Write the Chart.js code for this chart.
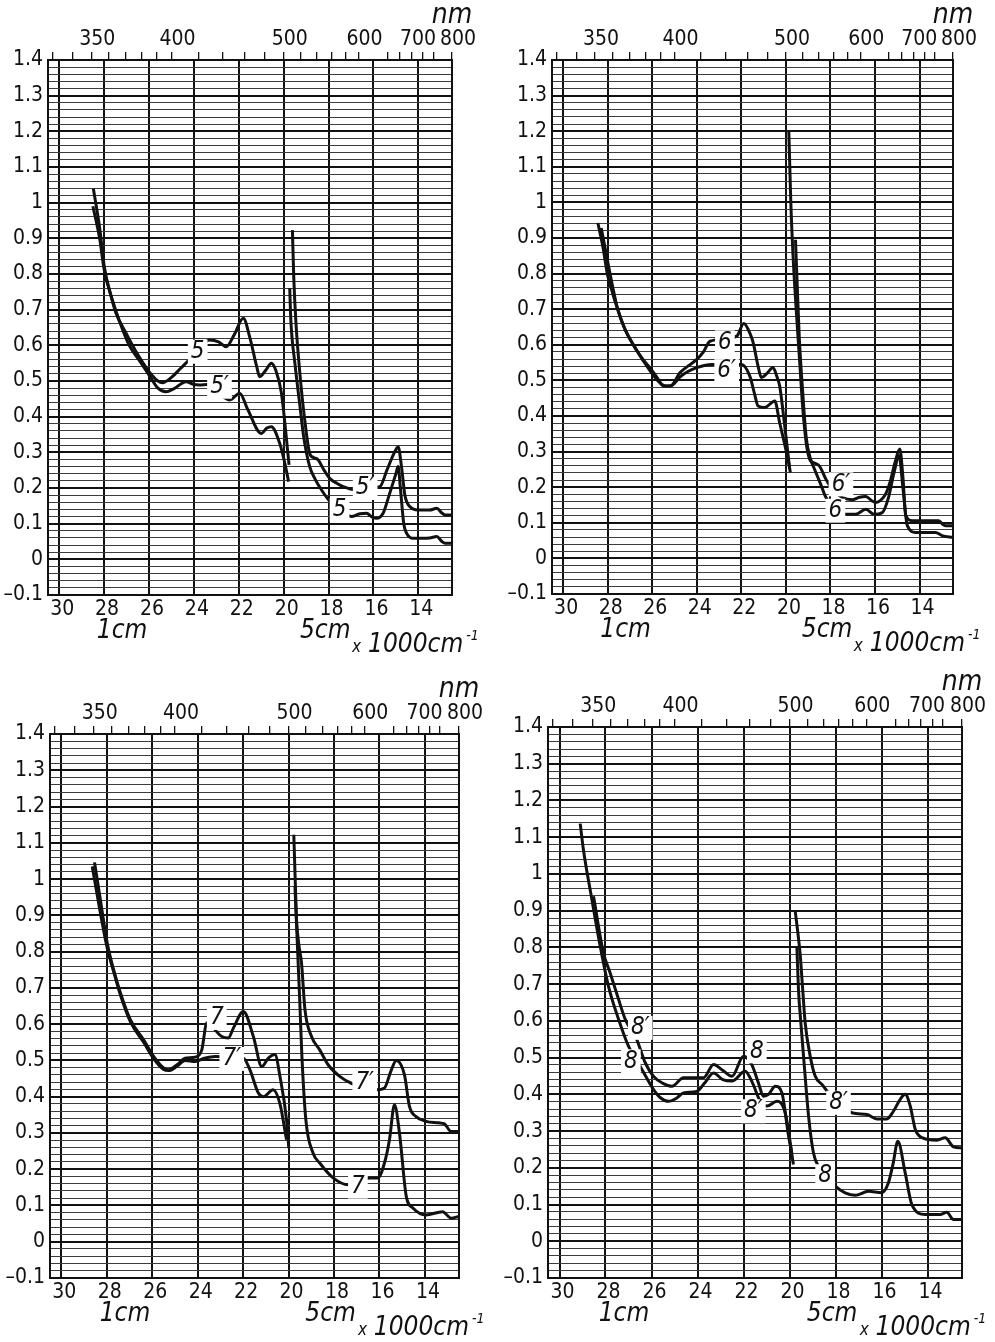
<!DOCTYPE html>
<html>
<head>
<meta charset="utf-8">
<script src="https://cdn.jsdelivr.net/npm/chart.js@4.4.1/dist/chart.umd.min.js"></script>
<style>
  body { margin: 0; background: #fff; width: 995px; height: 1342px; position: relative; overflow: hidden; }
  canvas { position: absolute; }
</style>
</head>
<body>
<canvas id="c1" width="497" height="671" style="left:0;top:0"></canvas>
<canvas id="c2" width="498" height="671" style="left:497px;top:0"></canvas>
<canvas id="c3" width="497" height="671" style="left:0;top:671px"></canvas>
<canvas id="c4" width="498" height="671" style="left:497px;top:671px"></canvas>
<script>
// axis ticks (x 1000 cm-1 below, nm on top)
const wavenumberTicks = [30, 28, 26, 24, 22, 20, 18, 16, 14];
const nmTicks = [330, 340, 350, 360, 370, 380, 390, 400, 420, 440, 460, 480, 500, 520, 540, 560, 580, 600, 650, 675, 700, 725, 750, 800];
const nmLabels = [350, 400, 500, 600, 700, 800];
const yTickLabels = ["–0.1", "0", "0.1", "0.2", "0.3", "0.4", "0.5", "0.6", "0.7", "0.8", "0.9", "1", "1.1", "1.2", "1.3", "1.4"];

// panel 1 : curves 5 / 5'  [wavenumber, absorbance]
const p1Curve5Uv = [[28.48,1.04],[28.2,0.93],[27.99,0.82],[27.7,0.74],[27.47,0.69],[27.02,0.634],[26.6,0.585],[25.98,0.525],[25.6,0.5],[25.4,0.495],[25.0,0.51],[24.6,0.535],[24.2,0.56],[23.8,0.59],[23.3,0.615],[22.9,0.61],[22.56,0.596],[22.2,0.63],[21.8,0.676],[21.5,0.62],[21.2,0.54],[21.07,0.512],[20.8,0.53],[20.55,0.55],[20.35,0.53],[20.1,0.466],[19.76,0.265]];
const p1Curve5pUv = [[28.5,0.99],[28.2,0.9],[27.99,0.81],[27.62,0.725],[27.3,0.665],[26.88,0.6],[26.4,0.555],[25.98,0.515],[25.6,0.48],[25.24,0.47],[24.9,0.478],[24.35,0.498],[24.0,0.49],[23.75,0.489],[23.4,0.49],[22.8,0.46],[22.4,0.447],[21.96,0.466],[21.6,0.42],[21.0,0.353],[20.75,0.368],[20.55,0.372],[20.18,0.326],[19.95,0.27],[19.78,0.218]];
const p1Curve5pVis = [[19.61,0.923],[19.55,0.79],[19.45,0.66],[19.29,0.53],[19.06,0.39],[18.84,0.297],[18.65,0.285],[18.47,0.279],[18.2,0.25],[17.95,0.227],[17.6,0.212],[17.35,0.204],[16.83,0.195],[16.2,0.2],[15.71,0.204],[15.4,0.25],[15.1,0.295],[14.9,0.316],[14.75,0.26],[14.6,0.18],[14.38,0.148],[14.0,0.138],[13.5,0.138],[13.18,0.143],[12.95,0.13],[12.81,0.124],[12.5,0.124]];
const p1Curve5Vis = [[19.73,0.76],[19.68,0.67],[19.5,0.55],[19.29,0.438],[19.1,0.34],[18.84,0.26],[18.6,0.225],[18.32,0.195],[17.87,0.157],[17.7,0.15],[16.98,0.12],[16.6,0.128],[16.31,0.129],[16.05,0.118],[15.86,0.115],[15.57,0.129],[15.3,0.18],[15.0,0.24],[14.9,0.26],[14.8,0.2],[14.65,0.1],[14.52,0.073],[14.23,0.059],[13.5,0.06],[13.18,0.064],[12.95,0.05],[12.81,0.045],[12.5,0.045]];

// panel 2 : curves 6 / 6'
const p2Curve6Uv = [[28.44,0.942],[28.2,0.87],[28.02,0.8],[27.8,0.75],[27.65,0.718],[27.28,0.652],[26.9,0.605],[26.53,0.568],[25.94,0.522],[25.7,0.5],[25.49,0.484],[25.19,0.484],[24.75,0.522],[24.4,0.54],[24.0,0.559],[23.7,0.58],[23.41,0.61],[22.21,0.624],[21.89,0.66],[21.6,0.63],[21.47,0.606],[21.25,0.54],[21.1,0.508],[20.85,0.52],[20.58,0.536],[20.4,0.51],[20.28,0.484],[20.05,0.37],[19.83,0.251]];
const p2Curve6pUv = [[28.29,0.928],[28.05,0.85],[27.8,0.77],[27.55,0.7],[27.2,0.64],[26.8,0.595],[26.4,0.555],[25.9,0.51],[25.6,0.49],[25.4,0.484],[25.1,0.487],[24.75,0.51],[24.4,0.525],[24.0,0.536],[23.33,0.545],[21.99,0.545],[21.62,0.512],[21.4,0.46],[21.25,0.428],[20.95,0.424],[20.5,0.442],[20.28,0.381],[19.91,0.279],[19.8,0.241]];
const p2Curve6pVis = [[19.87,1.2],[19.78,1.0],[19.68,0.85],[19.54,0.7],[19.38,0.55],[19.24,0.419],[19.09,0.325],[18.94,0.279],[18.8,0.27],[18.5,0.26],[18.2,0.222],[17.97,0.199],[17.46,0.171],[17.0,0.165],[16.7,0.172],[16.41,0.174],[16.15,0.162],[15.96,0.157],[15.75,0.163],[15.52,0.181],[15.3,0.22],[15.1,0.27],[14.89,0.307],[14.75,0.23],[14.62,0.12],[14.33,0.106],[13.6,0.106],[13.14,0.106],[12.95,0.095],[12.84,0.092],[12.5,0.092]];
const p2Curve6Vis = [[19.57,0.895],[19.5,0.78],[19.4,0.62],[19.25,0.47],[19.09,0.34],[18.9,0.28],[18.72,0.251],[18.45,0.21],[18.2,0.171],[17.3,0.124],[16.87,0.124],[16.41,0.138],[16.04,0.124],[15.67,0.129],[15.4,0.17],[15.15,0.24],[14.92,0.288],[14.75,0.2],[14.55,0.092],[14.18,0.073],[13.29,0.073],[12.99,0.064],[12.5,0.059]];

// panel 3 : curves 7 / 7'
const p3Curve7Uv = [[28.54,1.046],[28.3,0.95],[27.98,0.823],[27.7,0.75],[27.4,0.686],[26.96,0.612],[26.38,0.557],[25.94,0.511],[25.5,0.479],[25.28,0.474],[24.91,0.488],[24.55,0.506],[24.11,0.509],[23.82,0.529],[23.6,0.603],[22.94,0.566],[22.65,0.562],[22.43,0.589],[21.99,0.635],[21.55,0.566],[21.18,0.483],[20.89,0.506],[20.6,0.516],[20.38,0.456],[20.09,0.336],[19.99,0.258]];
const p3Curve7pUv = [[28.64,1.035],[28.35,0.93],[28.0,0.815],[27.7,0.745],[27.4,0.68],[26.96,0.606],[26.38,0.55],[25.94,0.505],[25.5,0.475],[25.28,0.472],[24.91,0.484],[24.55,0.5],[24.11,0.497],[23.7,0.506],[23.23,0.511],[21.99,0.506],[21.7,0.474],[21.33,0.41],[21.11,0.4],[20.68,0.419],[20.38,0.38],[20.09,0.281]];
const p3Curve7pVis = [[19.77,1.122],[19.7,0.98],[19.65,0.888],[19.55,0.82],[19.43,0.768],[19.28,0.64],[18.99,0.566],[18.63,0.529],[18.26,0.488],[17.75,0.456],[17.24,0.437],[16.14,0.419],[15.78,0.424],[15.5,0.47],[15.26,0.5],[14.9,0.46],[14.68,0.373],[14.39,0.345],[13.95,0.332],[13.4,0.328],[13.14,0.325],[12.85,0.304],[12.5,0.304]];
const p3Curve7Vis = [[19.72,0.98],[19.6,0.8],[19.5,0.65],[19.42,0.52],[19.24,0.336],[18.92,0.244],[18.63,0.217],[18.04,0.176],[17.38,0.157],[16.43,0.176],[16.07,0.176],[15.78,0.217],[15.56,0.281],[15.34,0.378],[15.12,0.3],[14.82,0.125],[14.53,0.093],[13.95,0.074],[13.22,0.083],[12.85,0.065],[12.5,0.07]];

// panel 4 : curves 8 / 8'
const p4Curve8Uv = [[29.1,1.137],[28.96,1.066],[28.59,0.93],[28.23,0.803],[27.87,0.694],[27.43,0.604],[27.0,0.531],[26.49,0.476],[25.91,0.413],[25.6,0.39],[25.26,0.381],[24.9,0.39],[24.61,0.404],[24.03,0.408],[23.7,0.43],[23.3,0.458],[22.9,0.44],[22.5,0.436],[21.93,0.463],[21.6,0.43],[21.3,0.385],[20.98,0.368],[20.55,0.381],[20.19,0.35],[19.83,0.209]];
const p4Curve8pUv = [[28.52,0.939],[28.09,0.785],[27.8,0.731],[27.43,0.658],[27.14,0.604],[26.64,0.549],[26.3,0.49],[25.91,0.449],[25.5,0.43],[25.11,0.422],[24.61,0.445],[23.74,0.445],[23.3,0.481],[22.94,0.467],[22.5,0.449],[22.0,0.504],[21.64,0.481],[21.35,0.431],[21.13,0.395],[20.91,0.4],[20.62,0.422],[20.33,0.404],[20.04,0.286],[19.9,0.241]];
const p4Curve8pVis = [[19.75,0.898],[19.6,0.82],[19.53,0.776],[19.42,0.68],[19.32,0.595],[19.1,0.504],[18.88,0.449],[18.59,0.427],[18.3,0.404],[17.29,0.35],[16.63,0.345],[16.2,0.333],[15.77,0.333],[15.48,0.354],[15.2,0.385],[14.97,0.4],[14.75,0.368],[14.53,0.304],[14.24,0.282],[13.59,0.275],[13.23,0.282],[12.87,0.257],[12.5,0.254]];
const p4Curve8Vis = [[19.68,0.803],[19.61,0.685],[19.5,0.59],[19.39,0.504],[19.17,0.34],[18.96,0.241],[18.74,0.204],[18.01,0.15],[17.58,0.132],[17.14,0.125],[16.57,0.136],[15.98,0.132],[15.7,0.159],[15.5,0.21],[15.29,0.272],[14.97,0.186],[14.68,0.1],[14.1,0.073],[13.45,0.073],[13.16,0.079],[12.87,0.059],[12.5,0.059]];

// curve names written on the plot, at [wavenumber, absorbance]
const p1Labels = [["5", 23.83, 0.582], ["5′", 22.86, 0.484], ["5′", 16.37, 0.2], ["5", 17.51, 0.138]];
const p2Labels = [["6", 22.74, 0.607], ["6′", 22.66, 0.526], ["6′", 17.53, 0.208], ["6", 17.78, 0.134]];
const p3Labels = [["7", 23.16, 0.617], ["7′", 22.5, 0.504], ["7′", 16.65, 0.437], ["7", 16.95, 0.152]];
const p4Labels = [["8′", 26.49, 0.581], ["8", 26.9, 0.49], ["8", 21.42, 0.517], ["8′", 21.57, 0.354], ["8′", 17.87, 0.377], ["8", 18.45, 0.177]];

const NUM_FONT = '"DejaVu Sans Condensed", "DejaVu Sans", sans-serif';
const TXT_FONT = '"Liberation Sans Narrow", "DejaVu Sans Condensed", sans-serif';
const INK = "#111";

// y grid every 0.02, labels every 0.1
const yGridValues = [];
for (let k = -5; k <= 70; k++) yGridValues.push(k / 50);
const isMajor = (v) => Math.abs(v * 10 - Math.round(v * 10)) < 1e-6;

// chart area box of each panel inside its canvas (left, top, right, bottom)
const panels = [
  { id: "c1", curves: [p1Curve5Uv, p1Curve5pUv, p1Curve5pVis, p1Curve5Vis], labels: p1Labels, area: [48, 60, 452, 595] },
  { id: "c2", curves: [p2Curve6Uv, p2Curve6pUv, p2Curve6pVis, p2Curve6Vis], labels: p2Labels, area: [55, 60, 456, 594] },
  { id: "c3", curves: [p3Curve7Uv, p3Curve7pUv, p3Curve7pVis, p3Curve7Vis], labels: p3Labels, area: [50, 63, 459, 607] },
  { id: "c4", curves: [p4Curve8Uv, p4Curve8pUv, p4Curve8pVis, p4Curve8Vis], labels: p4Labels, area: [51, 56, 465, 607] },
];

const framePlugin = {
  id: "frame",
  beforeDatasetsDraw(chart) {
    const { ctx, chartArea: a } = chart;
    ctx.save();
    ctx.strokeStyle = INK;
    ctx.lineWidth = 2;
    ctx.strokeRect(a.left, a.top, a.right - a.left, a.bottom - a.top);
    ctx.restore();
  },
};

function textPlugin(labels) {
  return {
    id: "texts",
    afterDraw(chart) {
      const { ctx, chartArea: a } = chart;
      const xs = chart.scales.x, ys = chart.scales.y;
      ctx.save();
      // curve numbers with white ground
      ctx.font = "italic 24px " + TXT_FONT;
      ctx.textAlign = "center";
      ctx.textBaseline = "middle";
      labels.forEach(([t, wx, wy]) => {
        const x = xs.getPixelForValue(wx), y = ys.getPixelForValue(wy);
        const w = ctx.measureText(t).width;
        ctx.fillStyle = "#fff";
        ctx.fillRect(x - w / 2 - 3, y - 12, w + 6, 24);
        ctx.fillStyle = INK;
        ctx.fillText(t, x, y);
      });
      // nm unit
      ctx.font = "italic 28px " + TXT_FONT;
      ctx.fillText("nm", a.right, a.top - 44);
      // cell lengths
      ctx.font = "italic 26px " + TXT_FONT;
      ctx.fillText("1cm", xs.getPixelForValue(27.2), a.bottom + 36);
      ctx.fillText("5cm", xs.getPixelForValue(18.15), a.bottom + 36);
      // x 1000 cm-1
      let x0 = xs.getPixelForValue(16.95);
      const yb = a.bottom + 50;
      ctx.textAlign = "left";
      ctx.font = "italic 17px " + TXT_FONT;
      ctx.fillText("x", x0, yb + 3);
      x0 += ctx.measureText("x ").width + 2;
      ctx.font = "italic 26px " + TXT_FONT;
      ctx.fillText("1000cm", x0, yb);
      x0 += ctx.measureText("1000cm").width + 3;
      ctx.font = "italic 14px " + TXT_FONT;
      ctx.fillText("-1", x0, yb - 9);
      ctx.restore();
    },
  };
}

function makePanel(p) {
  const canvas = document.getElementById(p.id);
  const W = canvas.width, H = canvas.height;
  const [L, T, R, B] = p.area;
  const tickFont = { family: NUM_FONT, size: 21 };

  new Chart(canvas, {
    type: "line",
    data: {
      datasets: p.curves.map((c) => ({
        data: c,
        borderColor: INK,
        borderWidth: 3,
        pointRadius: 0,
        fill: false,
        cubicInterpolationMode: "monotone",
      })),
    },
    options: {
      responsive: false,
      animation: false,
      events: [],
      layout: { padding: { left: 0, top: 0, right: W - R, bottom: 0 } },
      plugins: { legend: { display: false }, tooltip: { enabled: false } },
      scales: {
        x: {
          type: "linear",
          position: "bottom",
          min: 12.5,
          max: 30.5,
          reverse: true,
          afterBuildTicks: (s) => { s.ticks = wavenumberTicks.map((v) => ({ value: v })); },
          afterFit: (s) => { s.height = H - B; },
          ticks: { autoSkip: false, maxRotation: 0, padding: 2, labelOffset: 3, color: INK, font: tickFont, callback: (v) => String(v) },
          grid: { color: INK, lineWidth: 2, drawTicks: false },
          border: { display: true, color: INK, width: 2 },
        },
        nm: {
          type: "linear",
          position: "top",
          min: 12.5,
          max: 30.5,
          reverse: true,
          afterBuildTicks: (s) => { s.ticks = nmTicks.map((n) => ({ value: 10000 / n })); },
          afterFit: (s) => { s.height = T; },
          ticks: {
            autoSkip: false, maxRotation: 0, padding: 0, labelOffset: 6, color: INK, font: tickFont,
            callback: (v) => { const n = Math.round(10000 / v); return nmLabels.includes(n) ? String(n) : ""; },
          },
          grid: { drawOnChartArea: false, drawTicks: true, tickLength: 8, color: INK, lineWidth: 1.3 },
          border: { display: false },
        },
        y: {
          min: -0.1,
          max: 1.4,
          afterBuildTicks: (s) => { s.ticks = yGridValues.map((v) => ({ value: v })); },
          afterFit: (s) => { s.width = L; },
          ticks: {
            autoSkip: false, padding: 5, color: INK, font: tickFont,
            callback: (v) => (isMajor(v) ? yTickLabels[Math.round(v * 10) + 1] : ""),
          },
          grid: {
            drawTicks: false,
            color: (c) => (isMajor(c.tick.value) ? INK : "#3c3c3c"),
            lineWidth: (c) => (isMajor(c.tick.value) ? 2 : 1),
          },
          border: { display: true, color: INK, width: 2 },
        },
      },
    },
    plugins: [framePlugin, textPlugin(p.labels)],
  });
}

panels.forEach(makePanel);
</script>
</body>
</html>
